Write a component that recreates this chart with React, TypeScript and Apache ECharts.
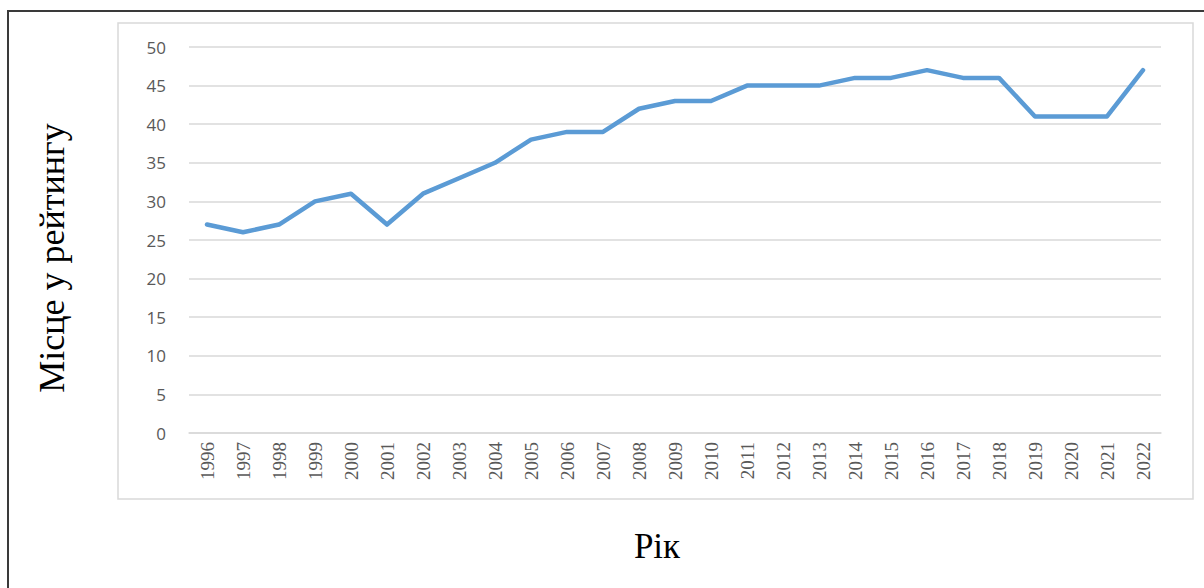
import React, { useEffect, useRef } from "react";
import * as echarts from "echarts";

const years = ["1996","1997","1998","1999","2000","2001","2002","2003","2004","2005","2006","2007","2008","2009","2010","2011","2012","2013","2014","2015","2016","2017","2018","2019","2020","2021","2022"];
const ranks = [27,26,27,30,31,27,31,33,35,38,39,39,42,43,43,45,45,45,46,46,47,46,46,41,41,41,47];
const yTitle = "Місце у рейтингу";
const xTitle = "Рік";

export default function App() {
  const ref = useRef<HTMLDivElement>(null);
  useEffect(() => {
    if (!ref.current) return;
    const chart = echarts.init(ref.current, null, { renderer: "svg" });
    chart.setOption({
      animation: false,
      backgroundColor: "#ffffff",
      grid: { left: 189, right: 43, top: 47, bottom: 155, containLabel: false },
      xAxis: {
        type: "category",
        data: years,
        boundaryGap: true,
        axisLine: { show: true, lineStyle: { color: "#d9d9d9", width: 1.5 } },
        axisTick: { show: false },
        axisLabel: {
          rotate: 90,
          margin: 9,
          color: "#595959",
          fontFamily: "'Liberation Serif', 'Times New Roman', serif",
          fontSize: 19,
          interval: 0,
        },
      },
      yAxis: {
        type: "value",
        min: 0,
        max: 50,
        interval: 5,
        axisLine: { show: false },
        axisTick: { show: false },
        splitLine: { lineStyle: { color: "#d9d9d9", width: 1.5 } },
        axisLabel: {
          margin: 23,
          color: "#595959",
          fontFamily: "'Open Sans', sans-serif",
          fontSize: 17,
        },
      },
      series: [
        {
          type: "line",
          data: ranks,
          symbol: "none",
          lineStyle: { color: "#5b9bd5", width: 4.5, cap: "round", join: "round" },
          itemStyle: { color: "#5b9bd5" },
        },
      ],
      graphic: [
        {
          type: "rect",
          shape: { x: 8, y: 11, width: 1210, height: 600 },
          style: { fill: "none", stroke: "#3a3a3a", lineWidth: 2 },
          silent: true,
        },
        {
          type: "rect",
          shape: { x: 118, y: 23, width: 1075, height: 476 },
          style: { fill: "none", stroke: "#d9d9d9", lineWidth: 1.5 },
          silent: true,
        },
        {
          type: "text",
          x: 52,
          y: 258,
          rotation: Math.PI / 2,
          style: {
            text: yTitle,
            fontFamily: "'Liberation Serif', 'Times New Roman', serif",
            fontSize: 36,
            fill: "#000000",
            align: "center",
            verticalAlign: "middle",
          },
        },
        {
          type: "text",
          x: 657,
          y: 546,
          style: {
            text: xTitle,
            fontFamily: "'Liberation Serif', 'Times New Roman', serif",
            fontSize: 35,
            fill: "#000000",
            align: "center",
            verticalAlign: "middle",
          },
        },
      ],
    });
    return () => chart.dispose();
  }, []);
  return (
    <div
      ref={ref}
      style={{ position: "fixed", left: 0, top: 0, width: 1204, height: 588 }}
    />
  );
}
